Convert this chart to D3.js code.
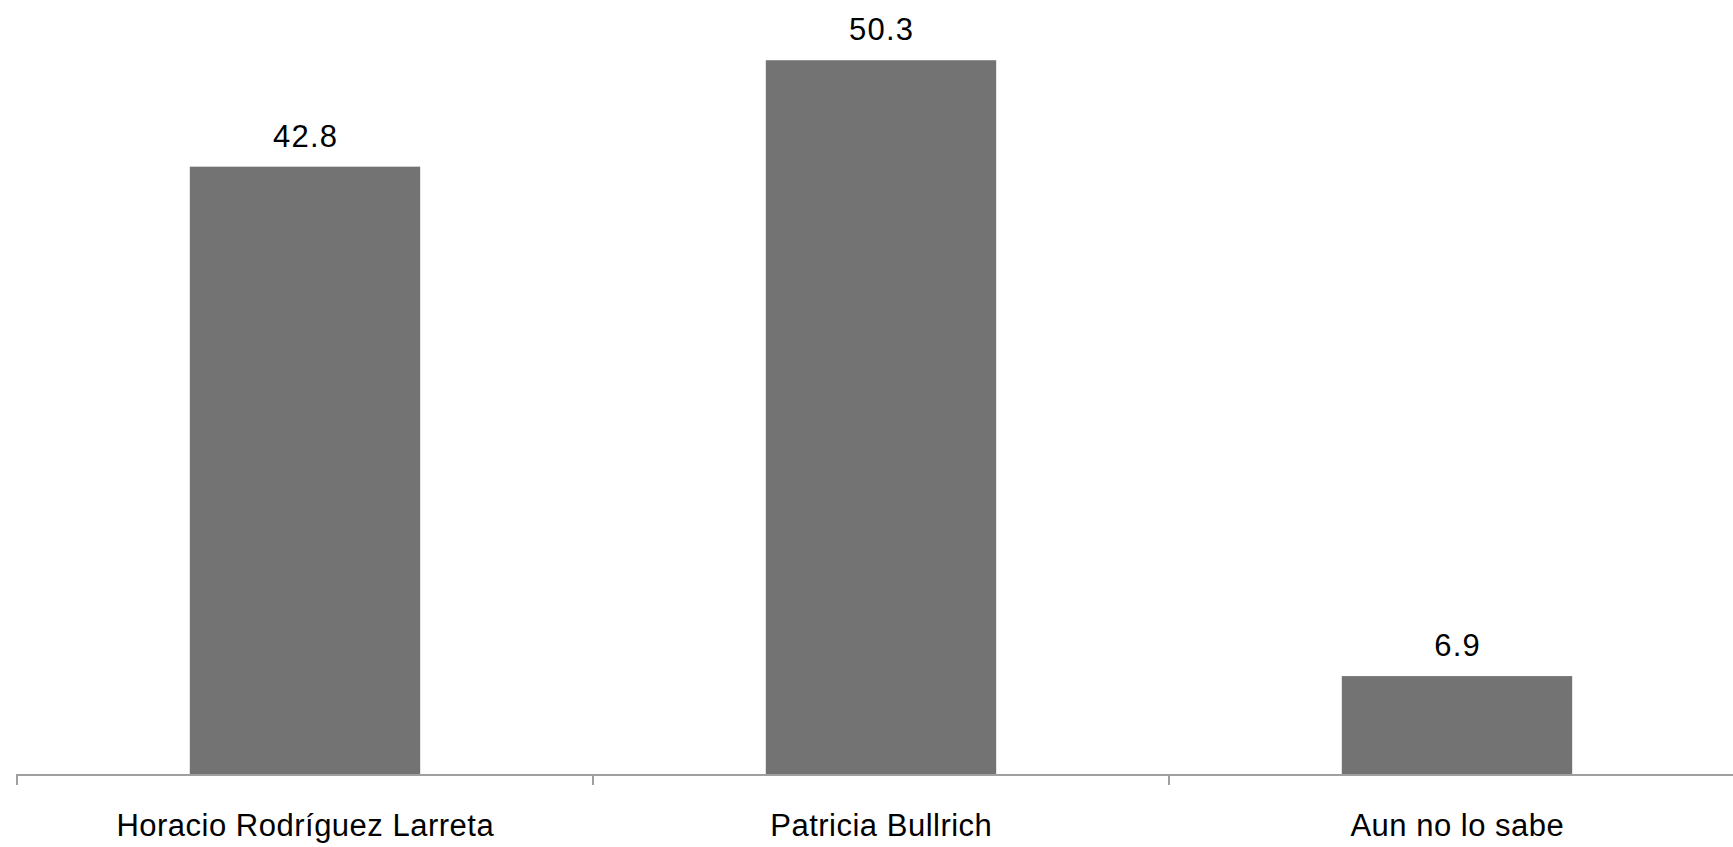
<!DOCTYPE html>
<html>
<head>
<meta charset="utf-8">
<script src="https://cdn.jsdelivr.net/npm/d3@7"></script>
<style>
html,body{margin:0;padding:0;background:#fff;}
svg{display:block;}
text{font-family:"Liberation Sans",Arial,Helvetica,sans-serif;fill:#000;}
</style>
</head>
<body>
<svg id="chart" width="1733" height="847"></svg>
<script>
const categories = ["Horacio Rodríguez Larreta", "Patricia Bullrich", "Aun no lo sabe"];
const values = [42.8, 50.3, 6.9];
const valueLabels = ["42.8", "50.3", "6.9"];

const svg = d3.select("#chart");
const W = 1733, H = 847;
const baseY = 774;

const x = d3.scaleBand()
  .domain(categories)
  .range([17, 17 + 576 * 3])
  .paddingInner(0.6)
  .paddingOuter(0.3);

const y = d3.scaleLinear().domain([0, 50]).range([baseY, 64.5]);

// bars
svg.append("g").selectAll("rect")
  .data(categories)
  .join("rect")
  .attr("x", d => x(d))
  .attr("width", x.bandwidth())
  .attr("y", (d, i) => y(values[i]))
  .attr("height", (d, i) => baseY - y(values[i]))
  .attr("fill", "#737373");

// value labels
svg.append("g").selectAll("text")
  .data(categories)
  .join("text")
  .attr("x", d => x(d) + x.bandwidth() / 2 + 0.6)
  .attr("y", (d, i) => y(values[i]) - 20)
  .attr("text-anchor", "middle")
  .attr("font-size", 31)
  .attr("letter-spacing", 1.2)
  .text((d, i) => valueLabels[i]);

// axis line
svg.append("line")
  .attr("x1", 16).attr("x2", W)
  .attr("y1", baseY + 1).attr("y2", baseY + 1)
  .attr("stroke", "#a0a0a0").attr("stroke-width", 2);

// tick marks at band boundaries
const step = x.step();
const tickPos = d3.range(categories.length + 1).map(i => 17 + i * step);
svg.append("g").selectAll("line")
  .data(tickPos)
  .join("line")
  .attr("x1", d => d).attr("x2", d => d)
  .attr("y1", baseY).attr("y2", baseY + 11)
  .attr("stroke", "#a0a0a0").attr("stroke-width", 2);

// category labels
svg.append("g").selectAll("text")
  .data(categories)
  .join("text")
  .attr("x", d => x(d) + x.bandwidth() / 2 + 0.3)
  .attr("y", 836)
  .attr("text-anchor", "middle")
  .attr("font-size", 31)
  .attr("letter-spacing", 0.5)
  .text(d => d);
</script>
</body>
</html>
